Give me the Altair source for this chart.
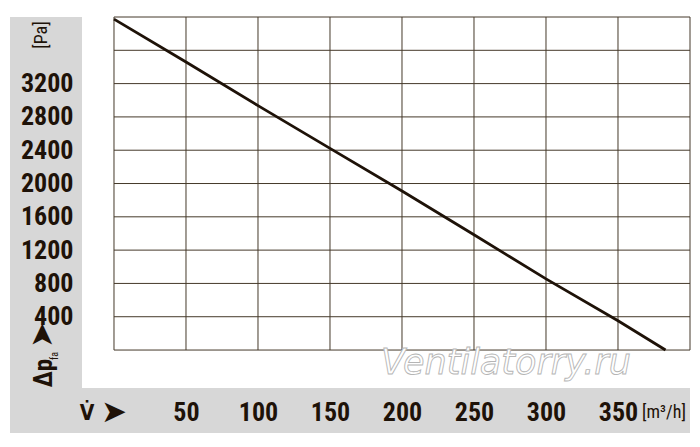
import altair as alt
import pandas as pd

# ---- data ----
flow = [0, 50, 100, 150, 200, 250, 300, 350, 383]          # m3/h
pressure = [3975, 3460, 2935, 2422, 1910, 1385, 855, 352, 0]  # Pa

x_grid = [0, 50, 100, 150, 200, 250, 300, 350, 400]
y_grid = [0, 400, 800, 1200, 1600, 2000, 2400, 2800, 3200, 3600, 4000]
x_labels = [50, 100, 150, 200, 250, 300, 350]
y_labels = [400, 800, 1200, 1600, 2000, 2400, 2800, 3200]

y_unit = "[Pa]"
y_symbol = "Δp"
y_sub = "fa"
arrow = "➤"
x_symbol = "V̇"
x_unit = "[m³/h]"
watermark = "Ventilatorry.ru"

# ---- styling ----
INK = "#1e1208"
GRID = "#45392a"
PANEL = "#d7d7d7"
FONT = "Liberation Sans Narrow, Arial Narrow, Roboto Condensed, DejaVu Sans Condensed, sans-serif"
W, H = 608, 371

xs = alt.Scale(domain=[-22.222, 400], nice=False, zero=False)
ys = alt.Scale(domain=[-456, 4000], nice=False, zero=False)

one = pd.DataFrame({"k": [0]})

panel = alt.Chart(one).mark_rect(color=PANEL).encode(
    x=alt.value(-72), x2=alt.value(W), y=alt.value(0), y2=alt.value(416)
)
plot_bg = alt.Chart(one).mark_rect(color="white").encode(
    x=alt.value(0), x2=alt.value(W), y=alt.value(0), y2=alt.value(H)
)

vdf = pd.DataFrame({"x": x_grid, "y0": [0] * len(x_grid), "y1": [4000] * len(x_grid)})
hdf = pd.DataFrame({"y": y_grid, "x0": [0] * len(y_grid), "x1": [400] * len(y_grid)})

vgrid = alt.Chart(vdf).mark_rule(color=GRID, strokeWidth=1).encode(
    x=alt.X("x:Q", scale=xs,
            axis=alt.Axis(values=x_labels, format="d", title=None, domain=False, ticks=False,
                          tickSize=0, grid=False, labelFont=FONT, labelFontSize=26,
                          labelFontWeight="bold", labelColor=INK,
                          labelBaseline="alphabetic", labelPadding=32, zindex=2, labelFlush=False)),
    y=alt.Y("y0:Q", scale=ys,
            axis=alt.Axis(values=y_labels, format="d", title=None, domain=False, ticks=False,
                          tickSize=0, grid=False, labelFont=FONT, labelFontSize=26,
                          labelFontWeight="bold", labelColor=INK,
                          labelPadding=9, zindex=2, labelFlush=False)),
    y2="y1:Q",
)
hgrid = alt.Chart(hdf).mark_rule(color=GRID, strokeWidth=1).encode(
    y=alt.Y("y:Q", scale=ys), x=alt.X("x0:Q", scale=xs), x2="x1:Q"
)

wm = alt.Chart(one).mark_text(
    text=watermark, font="DejaVu Sans", fontStyle="italic", fontSize=35,
    fill="white", stroke="#b5b5b5", strokeWidth=0.9, align="center", baseline="alphabetic"
).encode(x=alt.value(424), y=alt.value(357))

ldf = pd.DataFrame({"flow": flow, "pressure": pressure})
curve = alt.Chart(ldf).mark_line(color=INK, strokeWidth=2.8).encode(
    x=alt.X("flow:Q", scale=xs), y=alt.Y("pressure:Q", scale=ys)
)

def label(txt, x, y, size, angle=0, baseline="middle", font=FONT, weight="normal"):
    return alt.Chart(one).mark_text(
        text=txt, font=font, fontSize=size, color=INK, angle=angle, fontWeight=weight,
        align="center", baseline=baseline
    ).encode(x=alt.value(x), y=alt.value(y))

texts = [
    label(y_unit, -40.5, 18, 18, angle=270),
    label(y_symbol, -30, 356, 25, angle=270, baseline="alphabetic", weight="bold"),
    label(y_sub, -24, 339, 10, angle=270, baseline="alphabetic"),
    label(arrow, -39, 318, 31, angle=270, font="DejaVu Sans"),
    label(x_symbol, 5, 403, 21, baseline="alphabetic", weight="bold"),
    label(arrow, 32, 396, 31, font="DejaVu Sans"),
    label(x_unit, 582, 401, 18, baseline="alphabetic"),
]

chart = alt.layer(panel, plot_bg, vgrid, hgrid, wm, curve, *texts).properties(
    width=W, height=H,
    padding={"left": 74, "top": 9, "right": 2, "bottom": 55},
    autosize=alt.AutoSizeParams(type="none"),
    background="white",
).configure_view(stroke=None)

chart.save("out.html", embed_options={"renderer": "svg", "actions": False})
